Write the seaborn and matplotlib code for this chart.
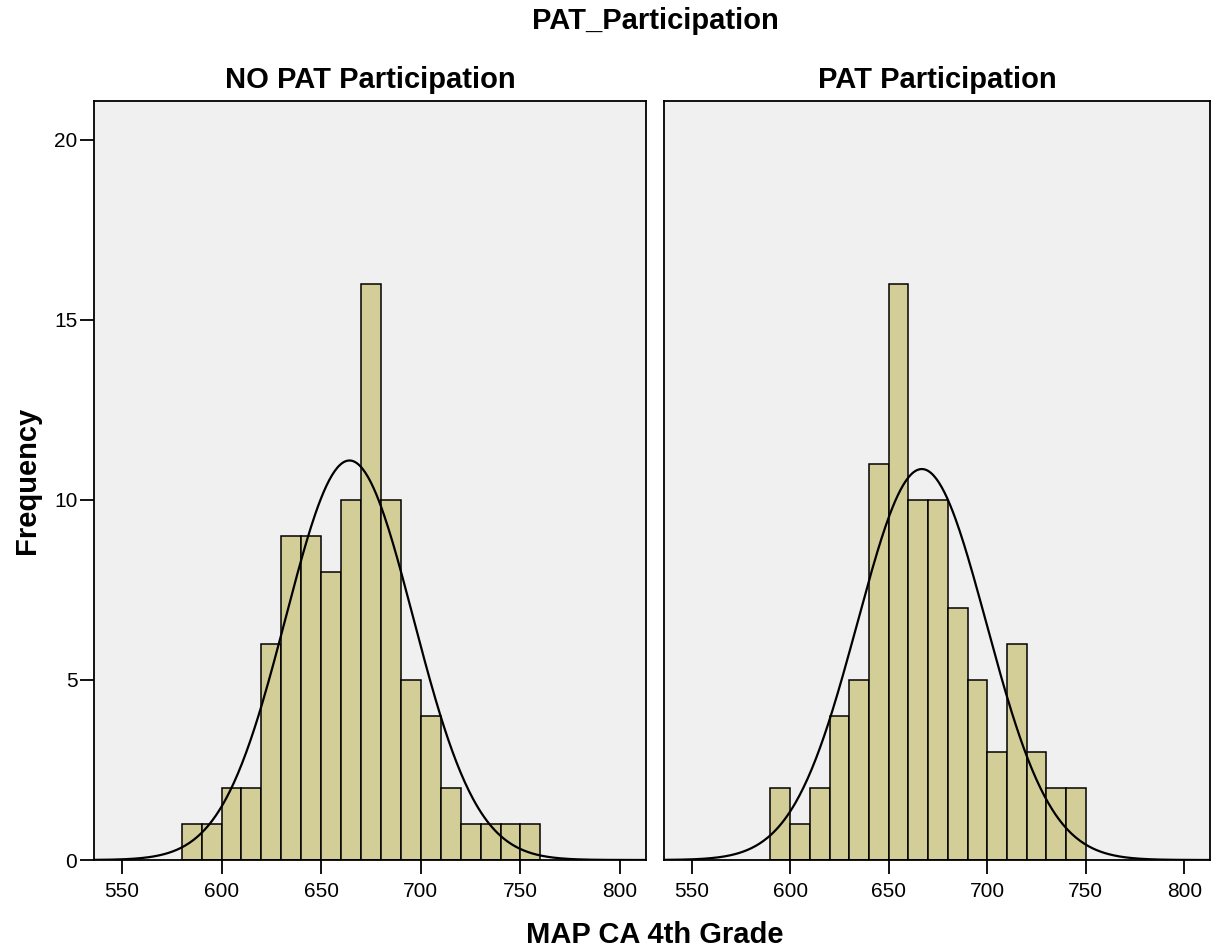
import numpy as np
import pandas as pd
import matplotlib
matplotlib.use("Agg")
import matplotlib.pyplot as plt
import seaborn as sns

# ---- data ----
panels = ["NO PAT Participation", "PAT Participation"]
left_starts = [580, 590, 600, 610, 620, 630, 640, 650, 660, 670, 680, 690, 700, 710, 720, 730, 740, 750]
left_counts = [1, 1, 2, 2, 6, 9, 9, 8, 10, 16, 10, 5, 4, 2, 1, 1, 1, 1]
right_starts = [590, 600, 610, 620, 630, 640, 650, 660, 670, 680, 690, 700, 710, 720, 730, 740]
right_counts = [2, 1, 2, 4, 5, 11, 16, 10, 10, 7, 5, 3, 6, 3, 2, 2]
fit_mean = [664.2, 666.8]
fit_sd = [32.0, 32.7]
xticks = [550, 600, 650, 700, 750, 800]
yticks = [0, 5, 10, 15, 20]

sns.set_theme(style="white")
plt.rcParams['font.family'] = ['Liberation Sans', 'DejaVu Sans']
plt.rcParams['text.color'] = 'black'
plt.rcParams['axes.labelcolor'] = 'black'
plt.rcParams['xtick.color'] = 'black'
plt.rcParams['ytick.color'] = 'black'

BAR = "#D3CE97"
BG = "#F0F0F0"

fig = plt.figure(figsize=(12.23, 9.51), dpi=100)
W, H = 1223, 951
ax_l = fig.add_axes([94 / W, 1 - 860 / H, (646 - 94) / W, (860 - 101) / H])
ax_r = fig.add_axes([664 / W, 1 - 860 / H, (1210 - 664) / W, (860 - 101) / H])

data = [(left_starts, left_counts), (right_starts, right_counts)]
for i, ax in enumerate([ax_l, ax_r]):
    starts, counts = data[i]
    df = pd.DataFrame({"x": np.array(starts, dtype=float) + 5, "w": np.array(counts, dtype=float)})
    sns.histplot(data=df, x="x", weights="w", binwidth=10,
                 binrange=(starts[0], starts[-1] + 10),
                 color=BAR, edgecolor="black", linewidth=1.1, alpha=1, ax=ax)
    n = sum(counts)
    xs = np.linspace(536, 813, 400)
    ys = n * 10 / (fit_sd[i] * np.sqrt(2 * np.pi)) * np.exp(-0.5 * ((xs - fit_mean[i]) / fit_sd[i]) ** 2)
    sns.lineplot(x=xs, y=ys, color="black", linewidth=1.6, ax=ax)
    ax.set_facecolor(BG)
    ax.set_xlim(536, 813)
    ax.set_ylim(0, 21.08)
    ax.set_xticks(xticks)
    ax.set_xlabel("")
    ax.set_ylabel("")
    ax.set_title(panels[i], fontsize=21, fontweight="bold", pad=9, color="black")
    for s in ax.spines.values():
        s.set_color("black")
        s.set_linewidth(1.3)
    ax.tick_params(axis="x", direction="out", length=10, width=1.3, colors="black",
                   labelsize=15, bottom=True, pad=6)
    if i == 0:
        ax.set_yticks(yticks)
        ax.tick_params(axis="y", direction="out", length=10, width=1.3, colors="black",
                       labelsize=15, left=True, pad=2)
    else:
        ax.set_yticks([])
    ax.grid(False)

fig.text(655 / W, 1 - 21 / H, "PAT_Participation", ha="center", va="center",
         fontsize=21, fontweight="bold", color="black")
fig.text(655 / W, 1 - 935 / H, "MAP CA 4th Grade", ha="center", va="center",
         fontsize=21, fontweight="bold", color="black")
fig.text(27 / W, 1 - 480 / H, "Frequency", ha="center", va="center", rotation=90,
         fontsize=21, fontweight="bold", color="black")

fig.savefig("out.png", dpi=100, facecolor="white")
